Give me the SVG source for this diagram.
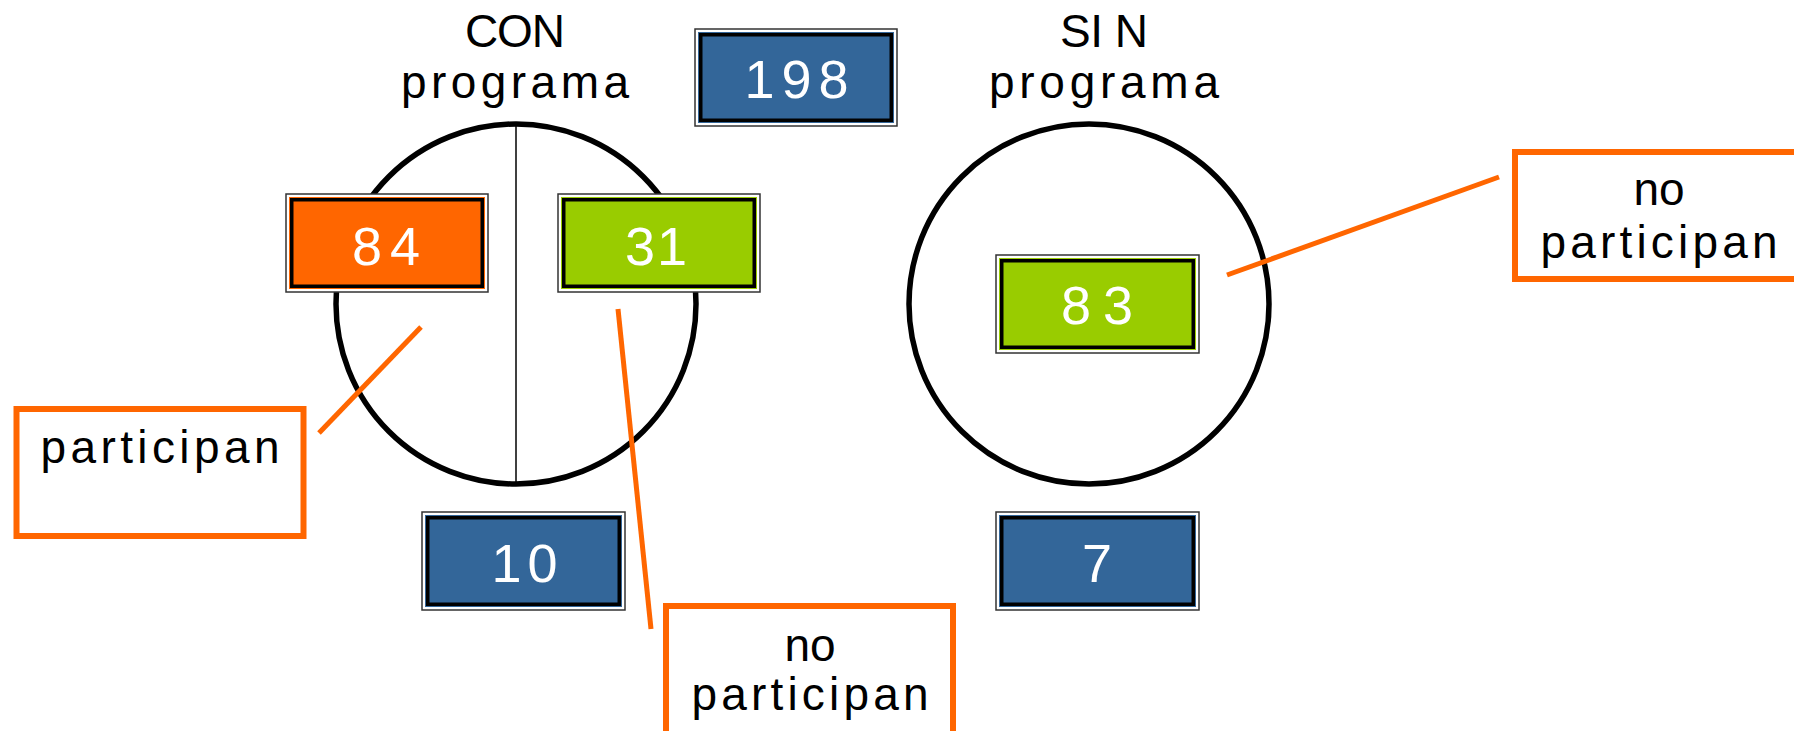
<svg xmlns="http://www.w3.org/2000/svg" width="1794" height="731" viewBox="0 0 1794 731">
<style>
.lbl{font-family:"Liberation Sans",Arial,sans-serif;font-size:46px;fill:#000;text-anchor:middle}
.num{font-family:"Liberation Sans",Arial,sans-serif;font-size:54px;fill:#fff;text-anchor:middle}
.ring{fill:none;stroke:#000;stroke-width:5.5}
.outer{fill:#fff;stroke:#333;stroke-width:1.5}
.inner{fill:none;stroke:#000;stroke-width:3.5}
.callout{fill:#fff;stroke:#ff6600;stroke-width:6}
.leader{stroke:#ff6600;stroke-width:5;fill:none}
.blue{fill:#336699}.orange{fill:#ff6600}.green{fill:#99cc00}
</style>
<g id="con-circle">
<circle class="ring" cx="516" cy="304" r="180"/>
<line x1="516" y1="124" x2="516" y2="484" stroke="#000" stroke-width="1.5"/>
</g>
<g id="sin-circle">
<circle class="ring" cx="1089" cy="304" r="180"/>
</g>
<g id="title-con">
<text class="lbl" x="515" y="47" textLength="100" lengthAdjust="spacing">CON</text>
<text class="lbl" x="515" y="98" textLength="228" lengthAdjust="spacing">programa</text>
</g>
<g id="title-sin">
<text class="lbl" x="1104" y="47" textLength="88" lengthAdjust="spacing">SI N</text>
<text class="lbl" x="1104" y="98" textLength="230" lengthAdjust="spacing">programa</text>
</g>
<g id="box-198">
<rect class="outer" x="695" y="29" width="202" height="97"/>
<rect class="blue" x="698" y="32" width="196" height="91"/>
<rect class="inner" x="700.75" y="34.75" width="190.5" height="85.5"/>
<text class="num" x="796.5" y="98" textLength="104" lengthAdjust="spacing">198</text>
</g>
<g id="box-84">
<rect class="outer" x="286" y="194" width="202" height="98"/>
<rect class="orange" x="289" y="197" width="196" height="92"/>
<rect class="inner" x="291.75" y="199.75" width="190.5" height="86.5"/>
<text class="num" x="386" y="265" textLength="68" lengthAdjust="spacing">84</text>
</g>
<g id="box-31">
<rect class="outer" x="558" y="194" width="202" height="98"/>
<rect class="green" x="561" y="197" width="196" height="92"/>
<rect class="inner" x="563.75" y="199.75" width="190.5" height="86.5"/>
<text class="num" x="656" y="265" textLength="62" lengthAdjust="spacing">31</text>
</g>
<g id="box-83">
<rect class="outer" x="996" y="255" width="203" height="98"/>
<rect class="green" x="999" y="258" width="197" height="92"/>
<rect class="inner" x="1001.75" y="260.75" width="191.5" height="86.5"/>
<text class="num" x="1097" y="324" textLength="72" lengthAdjust="spacing">83</text>
</g>
<g id="box-10">
<rect class="outer" x="422" y="512" width="203" height="98"/>
<rect class="blue" x="425" y="515" width="197" height="92"/>
<rect class="inner" x="427.75" y="517.75" width="191.5" height="86.5"/>
<text class="num" x="524.5" y="582" textLength="66" lengthAdjust="spacing">10</text>
</g>
<g id="box-7">
<rect class="outer" x="996" y="512" width="203" height="98"/>
<rect class="blue" x="999" y="515" width="197" height="92"/>
<rect class="inner" x="1001.75" y="517.75" width="191.5" height="86.5"/>
<text class="num" x="1097" y="582">7</text>
</g>
<g id="callout-participan">
<rect class="callout" x="16.5" y="409" width="287" height="127"/>
<text class="lbl" x="160" y="463" textLength="239" lengthAdjust="spacing">participan</text>
</g>
<g id="callout-no-participan-bottom">
<rect class="callout" x="666" y="606" width="287" height="200"/>
<text class="lbl" x="810" y="661">no</text>
<text class="lbl" x="810" y="710" textLength="237" lengthAdjust="spacing">participan</text>
</g>
<g id="callout-no-participan-right">
<rect class="callout" x="1515" y="152" width="330" height="127"/>
<text class="lbl" x="1659" y="205">no</text>
<text class="lbl" x="1659" y="258" textLength="237" lengthAdjust="spacing">participan</text>
</g>
<g id="connectors">
<line class="leader" x1="319" y1="433" x2="421" y2="327"/>
<line class="leader" x1="618" y1="309" x2="651" y2="629"/>
<line class="leader" x1="1227" y1="275" x2="1499" y2="177"/>
</g>
</svg>
